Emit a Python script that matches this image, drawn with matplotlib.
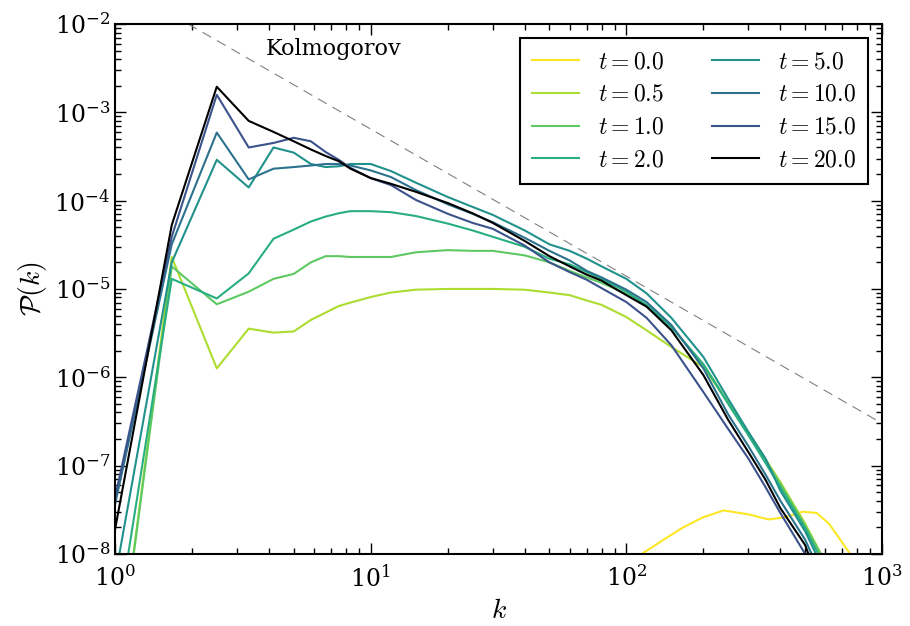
import numpy as np
import matplotlib
matplotlib.use("Agg")
from matplotlib import pyplot as plt
from matplotlib.ticker import LogLocator, FuncFormatter, NullFormatter

plt.rcParams['font.family'] = ['DejaVu Serif']
plt.rcParams['mathtext.fontset'] = 'cm'

# wavenumber grid shared by the evolved spectra
k = [0.833, 1.667, 2.5, 3.333, 4.167, 5.0, 5.833, 6.667, 7.5, 8.333, 10, 12, 15, 20, 25, 30,
     40, 50, 60, 70, 80, 100, 120, 150, 200, 250, 300, 350, 400, 500, 600]

p_t05 = [4e-12, 2.3e-5, 1.26e-6, 3.55e-6, 3.2e-6, 3.3e-6, 4.45e-6, 5.4e-6, 6.4e-6, 7.0e-6, 8.1e-6,
         9.1e-6, 9.8e-6, 1.0e-5, 1.0e-5, 1.0e-5, 9.8e-6, 9.1e-6, 8.5e-6, 7.4e-6, 6.6e-6, 4.8e-6,
         3.4e-6, 2.2e-6, 1.3e-6, 5.2e-7, 2.35e-7, 1.18e-7, 6.5e-8, 2.2e-8, 8e-9]
p_t1 = [4.6e-12, 1.8e-5, 6.7e-6, 9.3e-6, 1.3e-5, 1.48e-5, 2.0e-5, 2.35e-5, 2.35e-5, 2.3e-5, 2.3e-5,
        2.3e-5, 2.6e-5, 2.75e-5, 2.7e-5, 2.7e-5, 2.4e-5, 2.0e-5, 1.6e-5, 1.35e-5, 1.17e-5, 8.8e-6,
        6.4e-6, 3.7e-6, 1.4e-6, 5.2e-7, 2.3e-7, 1.16e-7, 6.2e-8, 2.1e-8, 8e-9]
p_t2 = [4e-11, 1.3e-5, 7.8e-6, 1.5e-5, 3.7e-5, 4.7e-5, 5.8e-5, 6.6e-5, 7.2e-5, 7.6e-5, 7.6e-5,
        7.4e-5, 6.7e-5, 5.5e-5, 4.6e-5, 3.9e-5, 3.0e-5, 2.2e-5, 1.9e-5, 1.55e-5, 1.3e-5, 9.3e-6,
        6.6e-6, 3.7e-6, 1.4e-6, 5.0e-7, 2.2e-7, 1.07e-7, 5.7e-8, 1.96e-8, 7e-9]
p_t5 = [2.8e-10, 2.0e-5, 2.9e-4, 1.41e-4, 4.0e-4, 3.5e-4, 2.6e-4, 2.4e-4, 2.45e-4, 2.6e-4, 2.6e-4,
        2.16e-4, 1.6e-4, 1.1e-4, 8.5e-5, 6.9e-5, 4.6e-5, 3.2e-5, 2.7e-5, 2.2e-5, 1.8e-5, 1.3e-5,
        8.9e-6, 4.7e-6, 1.7e-6, 5.7e-7, 2.4e-7, 1.2e-7, 5.2e-8, 1.8e-8, 6e-9]
p_t10 = [3.2e-9, 3.2e-5, 5.9e-4, 1.74e-4, 2.3e-4, 2.4e-4, 2.5e-4, 2.6e-4, 2.6e-4, 2.5e-4, 2.2e-4,
         1.85e-4, 1.32e-4, 9.1e-5, 7.1e-5, 5.7e-5, 3.8e-5, 2.7e-5, 2.1e-5, 1.6e-5, 1.35e-5, 9.8e-6,
         7.1e-6, 3.9e-6, 1.26e-6, 3.8e-7, 1.66e-7, 7.9e-8, 4.0e-8, 1.45e-8, 4.5e-9]
p_t15 = [3.8e-9, 3.9e-5, 1.58e-3, 4.0e-4, 4.5e-4, 5.15e-4, 4.7e-4, 3.55e-4, 2.9e-4, 2.35e-4, 1.8e-4,
         1.5e-4, 1.02e-4, 7.1e-5, 5.6e-5, 4.8e-5, 3.1e-5, 2.0e-5, 1.55e-5, 1.27e-5, 1.02e-5, 7.1e-6,
         4.7e-6, 2.3e-6, 6.8e-7, 2.6e-7, 1.2e-7, 5.7e-8, 2.9e-8, 1.0e-8, 2.8e-9]
p_t20 = [1.1e-9, 5.3e-5, 1.95e-3, 8.0e-4, 6.0e-4, 4.7e-4, 3.8e-4, 3.2e-4, 2.8e-4, 2.3e-4, 1.8e-4,
         1.55e-4, 1.26e-4, 9.4e-5, 7.2e-5, 5.6e-5, 3.5e-5, 2.35e-5, 1.8e-5, 1.45e-5, 1.24e-5, 8.5e-6,
         6.3e-6, 3.4e-6, 1.06e-6, 3.3e-7, 1.42e-7, 6.9e-8, 3.3e-8, 1.26e-8, 3e-9]

# the initial spectrum only shows up at high k
k_t0 = [100, 115, 140, 167, 200, 240, 300, 360, 420, 490, 555, 620, 680, 750, 800]
p_t0 = [6e-9, 1.0e-8, 1.45e-8, 2.0e-8, 2.6e-8, 3.1e-8, 2.8e-8, 2.45e-8, 2.6e-8, 3.0e-8, 2.9e-8,
        2.2e-8, 1.5e-8, 1.0e-8, 6e-9]

# k^(-5/3) reference line
kol_k = [1, 1000]
kol_p = [0.03, 3e-7]

times = [0.0, 0.5, 1.0, 2.0, 5.0, 10.0, 15.0, 20.0]
spectra = [(k_t0, p_t0), (k, p_t05), (k, p_t1), (k, p_t2), (k, p_t5), (k, p_t10), (k, p_t15), (k, p_t20)]

x_ticks = [1, 10, 100, 1000]
y_ticks = [1e-8, 1e-7, 1e-6, 1e-5, 1e-4, 1e-3, 1e-2]

colors = [plt.cm.viridis(1 - i / 8) for i in range(7)] + ['black']

fig = plt.figure(figsize=(9.1, 6.26), dpi=100)
ax = fig.add_axes([0.1264, 0.1153, 0.8429, 0.8463])

for t, (kk, pp), c in zip(times, spectra, colors):
    ax.plot(kk, pp, color=c, lw=1.5, label=f'$t={t:.1f}$')

ax.plot(kol_k, kol_p, color='gray', lw=0.8, linestyle=(0, (9, 6)))
ax.text(3.9, 5.2e-3, 'Kolmogorov', fontsize=16, va='center', ha='left')

ax.set_xscale('log')
ax.set_yscale('log')
ax.set_xlim(1, 1000)
ax.set_ylim(1e-8, 1e-2)

ax.set_xticks(x_ticks)
ax.set_yticks(y_ticks)
ax.xaxis.set_minor_locator(LogLocator(base=10, subs=np.arange(2, 10), numticks=20))
ax.yaxis.set_minor_locator(LogLocator(base=10, subs=np.arange(2, 10), numticks=20))
ax.xaxis.set_minor_formatter(NullFormatter())
ax.yaxis.set_minor_formatter(NullFormatter())
fmt = FuncFormatter(lambda v, pos: r'$\mathdefault{10^{%d}}$' % round(np.log10(v)))
ax.xaxis.set_major_formatter(fmt)
ax.yaxis.set_major_formatter(fmt)

ax.tick_params(which='both', direction='in', top=True, right=True, labelsize=17)
ax.tick_params(which='major', length=8, width=1)
ax.tick_params(which='minor', length=4, width=1)
ax.tick_params(axis='x', which='major', pad=8)
for s in ax.spines.values():
    s.set_linewidth(1.5)

ax.set_xlabel('$k$', fontsize=20)
ax.set_ylabel(r'$\mathcal{P}(k)$', fontsize=20)

leg = ax.legend(loc='upper right', ncol=2, fontsize=17, fancybox=False, framealpha=1,
                edgecolor='black', handlelength=2.0, columnspacing=2.0, borderpad=0.5,
                labelspacing=0.42, borderaxespad=0.6)
leg.get_frame().set_linewidth(1.5)

fig.savefig('out.png', dpi=100)
